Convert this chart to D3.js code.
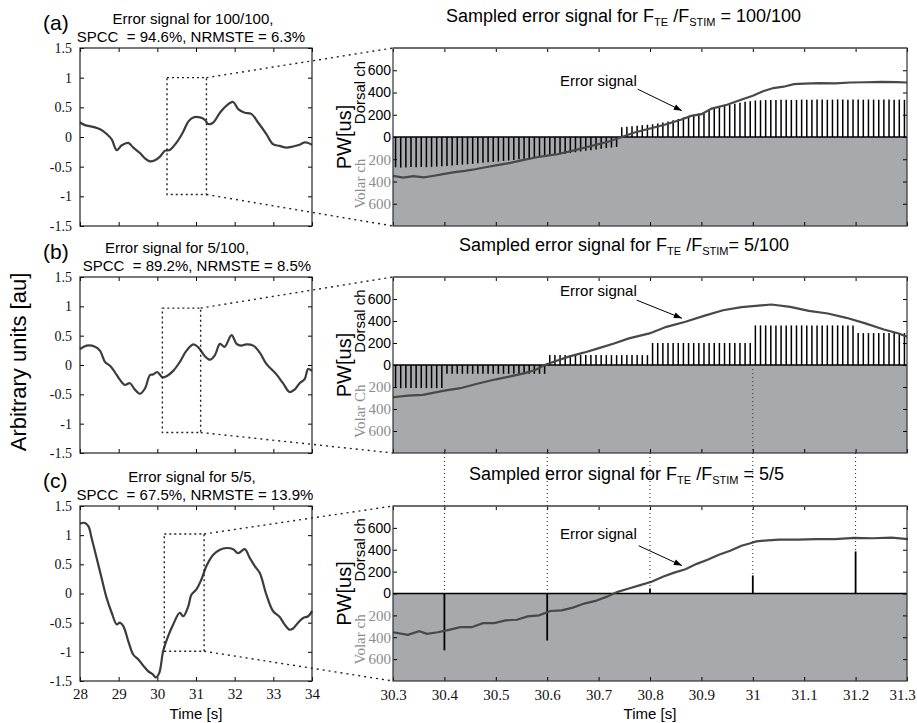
<!DOCTYPE html>
<html><head><meta charset="utf-8">
<script src="https://cdn.jsdelivr.net/npm/d3@7"></script>
<style>
body{margin:0;background:#fff}
svg text{white-space:pre}
</style></head><body>
<svg id="chart" width="917" height="723" font-family='"Liberation Sans",Arial,Helvetica,sans-serif'></svg>
<script>
// ---------- DATA ----------
const panelLabels = ["(a)","(b)","(c)"];
const leftTitle1 = ["Error signal for 100/100,","Error signal for 5/100,","Error signal for 5/5,"];
const leftTitle2 = ["SPCC  = 94.6%, NRMSTE = 6.3%","SPCC  = 89.2%, NRMSTE = 8.5%","SPCC  = 67.5%, NRMSTE = 13.9%"];
const rightTitleMid = [" /F"," /F"," /F"];
const rightTitleTail = [" = 100/100","= 5/100"," = 5/5"];
const volarLabels = ["Volar ch","Volar Ch","Volar ch"];
const leftXTicks = [28,29,30,31,32,33,34];
const leftYTicks = [-1.5,-1,-0.5,0,0.5,1,1.5];
const rightXTicks = [30.3,30.4,30.5,30.6,30.7,30.8,30.9,31,31.1,31.2,31.3];
const rightYTicks = [600,400,200,0,-200,-400,-600];

// full-length error signals (time [s], arbitrary units)
const errLeftA = [[28.00,0.245],[28.13,0.20],[28.34,0.17],[28.52,0.13],[28.69,0.05],[28.82,-0.04],[28.95,-0.22],[29.08,-0.14],[29.25,-0.10],[29.38,-0.18],[29.55,-0.27],[29.68,-0.36],[29.81,-0.41],[29.94,-0.39],[30.07,-0.33],[30.20,-0.23],[30.32,-0.22],[30.50,-0.09],[30.67,0.09],[30.80,0.26],[30.93,0.33],[31.10,0.33],[31.23,0.29],[31.31,0.22],[31.44,0.24],[31.62,0.41],[31.79,0.53],[31.96,0.59],[32.09,0.47],[32.26,0.41],[32.43,0.39],[32.61,0.24],[32.82,0.05],[32.99,-0.12],[33.16,-0.15],[33.34,-0.18],[33.51,-0.16],[33.68,-0.13],[33.81,-0.09],[33.90,-0.10],[34.00,-0.13]];
const errLeftB = [[28.00,0.27],[28.17,0.33],[28.39,0.31],[28.52,0.24],[28.65,0.05],[28.77,-0.01],[28.90,-0.12],[29.03,-0.25],[29.16,-0.34],[29.29,-0.31],[29.42,-0.42],[29.55,-0.49],[29.68,-0.40],[29.81,-0.17],[29.89,-0.16],[30.00,-0.12],[30.13,-0.21],[30.24,-0.19],[30.41,-0.10],[30.58,0.05],[30.75,0.24],[30.93,0.35],[31.06,0.30],[31.23,0.15],[31.36,0.09],[31.49,0.17],[31.62,0.36],[31.74,0.31],[31.92,0.51],[32.05,0.36],[32.17,0.33],[32.30,0.35],[32.48,0.33],[32.65,0.21],[32.82,0.02],[33.08,-0.16],[33.25,-0.31],[33.42,-0.46],[33.55,-0.42],[33.68,-0.31],[33.81,-0.24],[33.90,-0.07],[34.00,-0.10]];
const errLeftC = [[28.00,1.20],[28.13,1.21],[28.22,1.15],[28.30,0.95],[28.43,0.61],[28.56,0.26],[28.69,-0.08],[28.82,-0.33],[28.95,-0.53],[29.03,-0.50],[29.12,-0.56],[29.25,-0.82],[29.38,-1.05],[29.51,-1.13],[29.64,-1.24],[29.76,-1.33],[29.89,-1.39],[29.96,-1.44],[30.05,-1.36],[30.15,-0.99],[30.28,-0.73],[30.41,-0.53],[30.58,-0.33],[30.67,-0.39],[30.80,-0.22],[30.88,-0.02],[31.01,0.07],[31.14,0.24],[31.27,0.47],[31.44,0.66],[31.62,0.75],[31.79,0.78],[31.96,0.76],[32.09,0.69],[32.26,0.76],[32.39,0.61],[32.52,0.47],[32.65,0.35],[32.82,-0.02],[32.99,-0.30],[33.16,-0.40],[33.29,-0.53],[33.42,-0.62],[33.51,-0.60],[33.64,-0.50],[33.77,-0.42],[33.90,-0.39],[34.00,-0.30]];

// zoomed error signals (time [s], PW [us]; negative = volar)
const errRightA = [[30.30,-350],[30.32,-365],[30.34,-352],[30.36,-362],[30.38,-348],[30.40,-332],[30.42,-315],[30.44,-305],[30.46,-290],[30.48,-272],[30.50,-255],[30.52,-240],[30.55,-210],[30.58,-182],[30.60,-168],[30.62,-155],[30.65,-122],[30.68,-88],[30.70,-64],[30.72,-40],[30.745,0],[30.77,40],[30.80,76],[30.83,112],[30.86,155],[30.88,190],[30.90,205],[30.92,255],[30.95,290],[30.98,340],[31.00,370],[31.02,412],[31.04,440],[31.06,452],[31.08,475],[31.10,480],[31.13,485],[31.16,482],[31.19,490],[31.22,492],[31.25,495],[31.28,493],[31.30,490]];
const errRightB = [[30.300,-293],[30.329,-278],[30.358,-272],[30.400,-233],[30.431,-211],[30.460,-175],[30.500,-130],[30.526,-106],[30.555,-76],[30.577,-45],[30.595,0],[30.613,30],[30.642,76],[30.671,112],[30.699,151],[30.730,196],[30.759,242],[30.799,287],[30.832,347],[30.869,393],[30.905,447],[30.942,498],[30.978,526],[31.000,535],[31.036,550],[31.073,529],[31.109,492],[31.146,468],[31.182,429],[31.219,378],[31.255,323],[31.284,287],[31.300,257]];
const errRightC = [[30.300,-354],[30.329,-378],[30.351,-345],[30.366,-369],[30.387,-354],[30.409,-332],[30.431,-308],[30.453,-308],[30.475,-271],[30.497,-271],[30.519,-246],[30.541,-240],[30.562,-209],[30.584,-200],[30.606,-160],[30.628,-154],[30.650,-129],[30.672,-92],[30.694,-68],[30.715,-31],[30.737,15],[30.759,46],[30.781,77],[30.803,108],[30.825,154],[30.847,191],[30.869,222],[30.891,271],[30.912,308],[30.934,354],[30.956,391],[30.978,437],[30.992,455],[31.007,477],[31.029,486],[31.051,492],[31.087,492],[31.124,498],[31.160,498],[31.197,508],[31.233,505],[31.270,511],[31.302,498]];

// stimulation pulse widths
const sampleStart = 30.305, samplePeriod = 0.01;   // 100 Hz stimulation
const pwA = [-272,-275,-274,-270,-272,-270,-271,-268,-266,-264,-260,-256,-252,-248,-245,-241,-236,-232,-228,-224,-220,-215,-211,-206,-200,-195,-190,-184,-178,-172,-167,-161,-155,-150,-143,-137,-130,-124,-118,-112,-106,-100,-95,-90,
  88,92,97,102,106,110,115,122,130,140,150,162,175,190,200,212,225,238,252,265,278,290,300,308,316,322,328,
  330,332,333,332,334,335,333,334,336,335,334,336,337,335,336,338,336,335,337,336,335,337,336,335,336,337,335,336,334];
const holdStartB = [30.3,30.4,30.6,30.8,31.0,31.2];   // 5 Hz update of the level
const holdPWB = [-210,-80,90,200,360,290];
const pulseTimeC = [30.4,30.6,30.8,31.0,31.2];        // 5 Hz stimulation
const pulsePWC = [-520,-430,45,165,385];

// zoom windows on the left plots
const zoomT0 = [30.25,30.13,30.18], zoomT1 = [31.27,31.12,31.21];
const zoomVTop = [1.0,0.97,1.02], zoomVBot = [-0.97,-1.15,-0.99];

// ---------- LAYOUT ----------
const LX0=80, LX1=312, RX0=393, RX1=907;
const PY = [[48,226],[277,453],[506,681]];
const GRAY = "#a7a9ac";
const SERIF = '"Liberation Serif","Times New Roman",serif';
const svg = d3.select("#chart");

const xL = d3.scaleLinear().domain([28,34]).range([LX0,LX1]);
const xR = d3.scaleLinear().domain([30.3,31.3]).range([RX0,RX1]);

const leftSeries = [errLeftA, errLeftB, errLeftC];
const rightSeries = [errRightA, errRightB, errRightC];

const barsA = pwA.map((v,i)=>({t: sampleStart + i*samplePeriod, v}));
const barsB = d3.range(100).map(i=>{
  const t = sampleStart + i*samplePeriod;
  const k = d3.bisectRight(holdStartB, t) - 1;
  return {t, v: holdPWB[k]};
});
const barsC = pulseTimeC.map((t,i)=>({t, v: pulsePWC[i]}));
const bars = [barsA, barsB, barsC];

const titleStart = [446,459,469];
const t1c = [193,177,192], t2c = [191,197,195];
const yRs = [];
const ax = (sel)=>{ sel.select(".domain").remove(); sel.attr("font-family",null).attr("font-size",null); sel.selectAll("line").attr("stroke","#000"); };

PY.forEach(([top,bot],k)=>{
  const yL = d3.scaleLinear().domain([-1.5,1.5]).range([bot,top]);
  const yR = d3.scaleLinear().domain([-800,800]).range([bot,top]);
  yRs.push(yR);

  // ---- left panel ----
  const gl = svg.append("g");
  gl.append("text").attr("x",43).attr("y",top-18).attr("font-size",21).text(panelLabels[k]);
  gl.append("text").attr("x",t1c[k]).attr("y",top-24).attr("text-anchor","middle").attr("font-size",15).text(leftTitle1[k]);
  gl.append("text").attr("x",t2c[k]).attr("y",top-6).attr("text-anchor","middle").attr("font-size",15).text(leftTitle2[k]);

  gl.append("g").attr("transform",`translate(0,${bot})`)
    .call(d3.axisBottom(xL).tickValues(leftXTicks).tickSize(-4).tickPadding(7).tickFormat(k===2? d=>String(d) : ""))
    .call(ax).selectAll("text").style("font-family",SERIF).attr("font-size",15).attr("fill","#111");
  gl.append("g").attr("transform",`translate(0,${top})`)
    .call(d3.axisTop(xL).tickValues(leftXTicks).tickSize(-4).tickFormat("")).call(ax);
  gl.append("g").attr("transform",`translate(${LX0},0)`)
    .call(d3.axisLeft(yL).tickValues(leftYTicks).tickSize(-4).tickPadding(8).tickFormat(d=>String(d)))
    .call(ax).selectAll("text").style("font-family",SERIF).attr("font-size",14).attr("fill","#111");
  gl.append("g").attr("transform",`translate(${LX1},0)`)
    .call(d3.axisRight(yL).tickValues(leftYTicks).tickSize(-4).tickFormat("")).call(ax);

  gl.append("path").datum(leftSeries[k])
    .attr("d", d3.line().x(d=>xL(d[0])).y(d=>yL(d[1])).curve(d3.curveCatmullRom))
    .attr("fill","none").attr("stroke","#3c3c3c").attr("stroke-width",2.2);
  gl.append("rect").attr("x",LX0).attr("y",top).attr("width",LX1-LX0).attr("height",bot-top)
    .attr("fill","none").attr("stroke","#222").attr("stroke-width",1.2);

  // zoom rectangle + connector lines
  const zx0 = xL(zoomT0[k]), zx1 = xL(zoomT1[k]), zy0 = yL(zoomVTop[k]), zy1 = yL(zoomVBot[k]);
  gl.append("rect").attr("x",zx0).attr("y",zy0).attr("width",zx1-zx0).attr("height",zy1-zy0)
    .attr("fill","none").attr("stroke","#222").attr("stroke-width",1.4).attr("stroke-dasharray","2,3");
  gl.append("line").attr("x1",zx1).attr("y1",zy0).attr("x2",RX0).attr("y2",top)
    .attr("stroke","#222").attr("stroke-width",1.4).attr("stroke-dasharray","2,4");
  gl.append("line").attr("x1",zx1).attr("y1",zy1).attr("x2",RX0).attr("y2",bot)
    .attr("stroke","#222").attr("stroke-width",1.4).attr("stroke-dasharray","2,4");

  // ---- right panel ----
  const gr = svg.append("g");
  gr.append("rect").attr("x",RX0).attr("y",yR(0)).attr("width",RX1-RX0).attr("height",bot-yR(0)).attr("fill",GRAY);
  gr.append("g").selectAll("line").data(bars[k]).join("line")
    .attr("x1",d=>xR(d.t)).attr("x2",d=>xR(d.t)).attr("y1",yR(0)).attr("y2",d=>yR(d.v))
    .attr("stroke","#000").attr("stroke-width",k===2?1.8:1.5);
  gr.append("line").attr("x1",RX0).attr("x2",RX1).attr("y1",yR(0)).attr("y2",yR(0)).attr("stroke","#000").attr("stroke-width",1.5);
  gr.append("path").datum(rightSeries[k])
    .attr("d", d3.line().x(d=>xR(d[0])).y(d=>yR(d[1])))
    .attr("fill","none").attr("stroke","#484848").attr("stroke-width",2.2);

  const xa = gr.append("g").attr("transform",`translate(0,${bot})`)
    .call(d3.axisBottom(xR).tickValues(rightXTicks).tickSize(-4).tickPadding(8).tickFormat(k===2? d=>String(d) : ""))
    .call(ax);
  xa.selectAll("text").style("font-family",SERIF).attr("font-size",15).attr("fill","#111");
  xa.selectAll(".tick").filter(d=>d===31.3).select("text").attr("dx",-5);
  gr.append("g").attr("transform",`translate(0,${top})`)
    .call(d3.axisTop(xR).tickValues(rightXTicks).tickSize(-4).tickFormat("")).call(ax);
  const ya = gr.append("g").attr("transform",`translate(${RX0},0)`)
    .call(d3.axisLeft(yR).tickValues(rightYTicks).tickSize(-4).tickPadding(2).tickFormat(d=>String(Math.abs(d))))
    .call(ax);
  ya.selectAll("text").attr("font-size",14).attr("fill","#000");
  ya.selectAll(".tick").filter(d=>d<0).select("text").style("font-family",SERIF).attr("fill","#8c8c8c").attr("font-size",15);
  gr.append("g").attr("transform",`translate(${RX1},0)`)
    .call(d3.axisRight(yR).tickValues(rightYTicks).tickSize(-4).tickFormat("")).call(ax);
  gr.append("rect").attr("x",RX0).attr("y",top).attr("width",RX1-RX0).attr("height",bot-top)
    .attr("fill","none").attr("stroke","#333").attr("stroke-width",1.2);
  gr.append("line").attr("x1",RX0).attr("x2",RX1).attr("y1",top).attr("y2",top).attr("stroke","#666").attr("stroke-width",1.4);

  // axis titles
  gr.append("text").attr("transform",`translate(351,${yR(0)}) rotate(-90)`).attr("text-anchor","middle").attr("font-size",20).text("PW[us]");
  gr.append("text").attr("transform",`translate(365,${yR(400)}) rotate(-90)`).attr("text-anchor","middle").attr("font-size",15).text("Dorsal ch");
  gr.append("text").attr("transform",`translate(365,${yR(-420)}) rotate(-90)`).attr("text-anchor","middle").attr("font-size",15)
    .style("font-family",SERIF).attr("fill","#8c8c8c").text(volarLabels[k]);

  // title with subscripts
  const tt = gr.append("text").attr("x",titleStart[k]).attr("y",top-26).attr("font-size",18);
  tt.append("tspan").text("Sampled error signal for F");
  tt.append("tspan").attr("font-size",11).attr("dy",4).text("TE");
  tt.append("tspan").attr("dy",-4).text(rightTitleMid[k]);
  tt.append("tspan").attr("font-size",11).attr("dy",4).text("STIM");
  tt.append("tspan").attr("dy",-4).text(rightTitleTail[k]);
});

// "Error signal" annotations
const annot = [
  {tx:30.625, tv:455, ax:30.776, av:430, bx:30.862, bv:237},
  {tx:30.625, tv:630, ax:30.774, av:590, bx:30.862, bv:425},
  {tx:30.625, tv:495, ax:30.778, av:437, bx:30.862, bv:255}];
annot.forEach((a,k)=>{
  const yR = yRs[k];
  svg.append("text").attr("x",xR(a.tx)).attr("y",yR(a.tv)).attr("font-size",15).text("Error signal");
  const x1=xR(a.ax), y1=yR(a.av), x2=xR(a.bx), y2=yR(a.bv);
  svg.append("line").attr("x1",x1).attr("y1",y1).attr("x2",x2).attr("y2",y2).attr("stroke","#000").attr("stroke-width",1);
  const ang = Math.atan2(y2-y1,x2-x1), L=8, W=3;
  const p = [[x2,y2],[x2-L*Math.cos(ang)+W*Math.sin(ang), y2-L*Math.sin(ang)-W*Math.cos(ang)],
             [x2-L*Math.cos(ang)-W*Math.sin(ang), y2-L*Math.sin(ang)+W*Math.cos(ang)]];
  svg.append("path").attr("d","M"+p.map(q=>q.join(",")).join("L")+"Z").attr("fill","#000");
});

// vertical dotted lines linking 5 Hz pulses of (b) and (c)
const yB = yRs[1], yC = yRs[2];
pulseTimeC.forEach((t,i)=>{
  const yStart = t===31.0 ? yB(0) : PY[1][1];
  const yEnd = pulsePWC[i] > 0 ? yC(pulsePWC[i]) : yC(0);
  svg.append("line").attr("x1",xR(t)).attr("x2",xR(t)).attr("y1",yStart).attr("y2",yEnd)
    .attr("stroke","#222").attr("stroke-width",1).attr("stroke-dasharray","1,3");
});

// shared axis labels
svg.append("text").attr("transform","translate(26,362) rotate(-90)").attr("text-anchor","middle").attr("font-size",22).text("Arbitrary units [au]");
svg.append("text").attr("x",(LX0+LX1)/2).attr("y",719).attr("text-anchor","middle").attr("font-size",15).text("Time [s]");
svg.append("text").attr("x",(RX0+RX1)/2).attr("y",719).attr("text-anchor","middle").attr("font-size",15).text("Time [s]");
</script>
</body></html>
